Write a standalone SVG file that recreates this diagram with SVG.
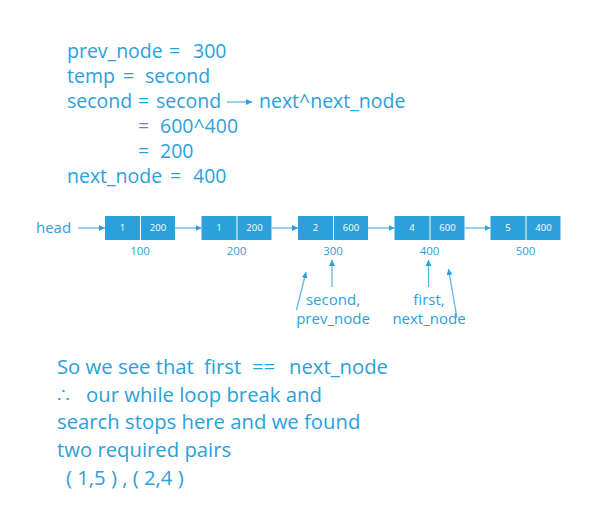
<svg xmlns="http://www.w3.org/2000/svg" width="595" height="530" viewBox="0 0 595 530">
<defs>
<style>
.t{font-family:"Open Sans","Noto Sans",sans-serif;fill:#2ba0da}
.top{font-size:19.5px}
.bot{font-size:20.3px}
.lbl{font-size:15px}
.addr{font-size:11.5px;text-anchor:middle}
.cell{fill:#2ba0da}
.ct{font-family:"Open Sans","Noto Sans",sans-serif;font-size:9.5px;fill:#ffffff;text-anchor:middle}
.ln{stroke:#5bb6e6;stroke-width:1.3;fill:none}
</style>
<marker id="ah" viewBox="0 0 6 6" refX="6" refY="3" markerWidth="6" markerHeight="6" markerUnits="userSpaceOnUse" orient="auto">
<path d="M0,0 L6,3 L0,6 z" fill="#2ba0da"/>
</marker>
</defs>
<rect width="595" height="530" fill="#ffffff"/>

<g id="code">
<text class="t top" x="67" y="58">prev_node</text><text class="t top" x="169" y="58">=</text><text class="t top" x="193" y="58">300</text>
<text class="t top" x="67" y="83">temp</text><text class="t top" x="123" y="83">=</text><text class="t top" x="145" y="83">second</text>
<text class="t top" x="67" y="108">second</text><text class="t top" x="138" y="108">=</text><text class="t top" x="156" y="108">second</text>
<line class="ln" x1="227" y1="102" x2="252" y2="102" marker-end="url(#ah)"/>
<text class="t top" x="259" y="108">next^next_node</text>
<text class="t top" x="138" y="133">=</text><text class="t top" x="160" y="133">600^400</text>
<text class="t top" x="138" y="158">=</text><text class="t top" x="160" y="158">200</text>
<text class="t top" x="67" y="183">next_node</text><text class="t top" x="170" y="183">=</text><text class="t top" x="193" y="183">400</text>
</g>

<g id="head"><text class="t lbl" x="36" y="233">head</text></g>

<g id="node100">
<rect class="cell" x="105" y="216" width="35" height="24"/><rect class="cell" x="141" y="216" width="34" height="24"/>
<text class="ct" x="122.5" y="231">1</text><text class="ct" x="158" y="231">200</text>
<text class="t addr" x="140" y="255">100</text>
</g>
<g id="node200">
<rect class="cell" x="201.5" y="216" width="35" height="24"/><rect class="cell" x="237.5" y="216" width="34" height="24"/>
<text class="ct" x="219" y="231">1</text><text class="ct" x="254.5" y="231">200</text>
<text class="t addr" x="236.5" y="255">200</text>
</g>
<g id="node300">
<rect class="cell" x="298" y="216" width="35" height="24"/><rect class="cell" x="334" y="216" width="34" height="24"/>
<text class="ct" x="315.5" y="231">2</text><text class="ct" x="351" y="231">600</text>
<text class="t addr" x="333" y="255">300</text>
</g>
<g id="node400">
<rect class="cell" x="394.5" y="216" width="35" height="24"/><rect class="cell" x="430.5" y="216" width="34" height="24"/>
<text class="ct" x="412" y="231">4</text><text class="ct" x="447.5" y="231">600</text>
<text class="t addr" x="429.5" y="255">400</text>
</g>
<g id="node500">
<rect class="cell" x="490.5" y="216" width="35" height="24"/><rect class="cell" x="526.5" y="216" width="34" height="24"/>
<text class="ct" x="508" y="231">5</text><text class="ct" x="543.5" y="231">400</text>
<text class="t addr" x="525.5" y="255">500</text>
</g>

<g id="pointers">
<text class="t lbl" x="333" y="305" text-anchor="middle">second,</text>
<text class="t lbl" x="333" y="324" text-anchor="middle">prev_node</text>
<text class="t lbl" x="429" y="305" text-anchor="middle">first,</text>
<text class="t lbl" x="429" y="324" text-anchor="middle">next_node</text>
</g>

<g id="connectors">
<line class="ln" x1="78" y1="228" x2="105" y2="228" marker-end="url(#ah)"/>
<line class="ln" x1="175" y1="228" x2="201.5" y2="228" marker-end="url(#ah)"/>
<line class="ln" x1="271.5" y1="228" x2="298" y2="228" marker-end="url(#ah)"/>
<line class="ln" x1="368" y1="228" x2="394.5" y2="228" marker-end="url(#ah)"/>
<line class="ln" x1="464.5" y1="228" x2="490.5" y2="228" marker-end="url(#ah)"/>
<line class="ln" x1="296.5" y1="310" x2="306" y2="272" marker-end="url(#ah)"/>
<line class="ln" x1="332" y1="287" x2="332" y2="260" marker-end="url(#ah)"/>
<line class="ln" x1="428.5" y1="287" x2="428.5" y2="260" marker-end="url(#ah)"/>
<line class="ln" x1="457" y1="318" x2="448.5" y2="269" marker-end="url(#ah)"/>
</g>

<g id="conclusion">
<text class="t bot" x="57" y="374">So we see that</text><text class="t bot" x="204" y="374">first</text><text class="t bot" x="252" y="374">==</text><text class="t bot" x="289" y="374">next_node</text>
<text class="t bot" x="57" y="402">∴</text><text class="t bot" x="86" y="402">our while loop break and</text>
<text class="t bot" x="57" y="429">search stops here and we found</text>
<text class="t bot" x="57" y="457">two required pairs</text>
<text class="t bot" x="66" y="485" xml:space="preserve">( 1,5 ) , ( 2,4 )</text>
</g>
</svg>
